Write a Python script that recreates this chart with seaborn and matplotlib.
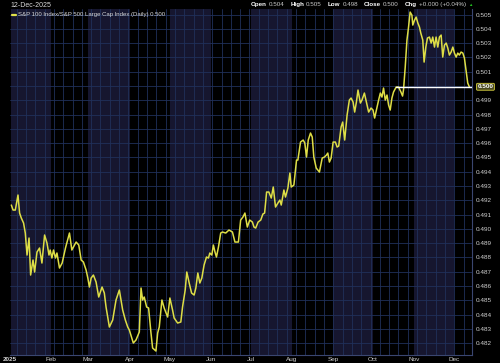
import matplotlib
matplotlib.use("Agg")
import matplotlib.pyplot as plt
import matplotlib.transforms as mtransforms
import seaborn as sns
import pandas as pd

# ---- data (day-of-year 2025, ratio value) ----
day_of_year = [
    2.0, 3.3, 5.0, 7.0, 8.2, 9.5, 11.2, 12.5, 13.8, 15.3, 16.5, 18.3, 19.5, 21.3, 23.2, 25.0,
    27.0, 28.8, 30.3, 31.2, 32.5, 33.7, 35.2, 36.3, 38.2, 40.2, 42.7, 45.7, 47.5, 50.7, 52.7,
    54.5, 56.2, 58.2, 59.5, 60.7, 62.0, 63.7, 65.7, 67.7, 70.2, 71.9, 73.2, 75.7, 78.2, 80.7,
    83.2, 85.7, 87.7, 89.5,
    90.7, 93.7, 95.7, 98.2, 99.5, 100.7, 101.9, 103.7, 105.2, 106.9, 108.2, 110.7, 112.0,
    113.2, 115.2, 116.9, 119.5, 121.2, 123.2, 124.4, 127.0, 129.4, 130.7, 132.7, 133.9,
    135.7, 137.5, 139.4, 140.7, 142.2, 143.7, 145.2, 146.9, 148.7, 150.2, 151.2, 152.7,
    153.9, 155.1, 156.2, 157.7, 159.4, 160.7, 163.2, 165.6, 168.2, 170.1, 172.7, 174.4,
    176.1, 177.6, 179.4, 181.2, 183.2, 184.4,
    185.7, 187.5, 189.5, 191.1, 192.4, 193.9, 195.6, 197.4, 198.9, 200.6, 202.4, 203.9,
    204.9, 206.9, 208.1, 209.9, 211.4, 212.4, 214.4, 216.4, 217.4, 219.4, 221.4, 222.6,
    223.9, 225.2, 226.9, 228.2, 229.4, 231.2, 233.6, 235.7, 237.4, 238.9, 239.9, 241.1,
    242.4, 243.9, 245.6, 246.9, 248.1, 249.9, 251.1, 252.6, 254.4, 256.1, 257.4, 258.9,
    260.1, 261.4, 262.6, 264.4, 265.6, 267.4, 268.9, 270.6, 272.4,
    273.9, 275.1, 276.9, 278.1, 279.4, 280.6, 281.8, 283.1, 284.4, 285.6, 286.8, 288.1,
    289.3, 291.3, 293.1, 294.9, 296.1, 296.8, 298.1, 299.4, 300.6, 301.8, 303.1, 303.8,
    305.1, 306.3, 307.6, 308.8, 309.8, 311.3, 312.3, 313.6, 314.8, 316.3, 317.6, 318.8,
    320.1, 321.3, 322.6, 323.8, 325.1, 326.3, 327.6, 328.9, 330.1, 331.3, 332.6, 333.9,
    335.1, 336.4, 337.6, 338.8, 340.1, 341.4, 342.6, 343.8, 345.1, 346.3,
]
ratio = [
    0.49167, 0.49132, 0.49132, 0.49237, 0.49111, 0.49076, 0.49041, 0.48971, 0.48817, 0.48936,
    0.48677, 0.48782, 0.48698, 0.48838, 0.48866, 0.48761, 0.48957, 0.48901, 0.48817, 0.48852,
    0.48796, 0.48852, 0.48796, 0.48831, 0.48726, 0.48761, 0.48866, 0.48971, 0.48852, 0.48908,
    0.48887, 0.48782, 0.48768, 0.48712, 0.48656, 0.48593, 0.48656, 0.48677, 0.48628, 0.48523,
    0.48593, 0.48551, 0.48453, 0.48313, 0.48362, 0.48502, 0.48572, 0.48432, 0.48362, 0.48313,
    0.48292, 0.48201, 0.48222, 0.48278, 0.48586, 0.48502, 0.48523, 0.48453, 0.48446, 0.48278,
    0.48166, 0.48145, 0.48271, 0.48313, 0.48502, 0.48446, 0.48383, 0.48516, 0.48432, 0.48376,
    0.48341, 0.48348, 0.48453, 0.48572, 0.48698, 0.48621, 0.48551, 0.48537, 0.48586, 0.48691,
    0.48621, 0.48656, 0.48747, 0.48803, 0.48796, 0.48831, 0.48817, 0.48887, 0.48838, 0.48803,
    0.48873, 0.48971, 0.48978, 0.48971, 0.48992, 0.48978, 0.48908, 0.48908, 0.49062, 0.49083,
    0.49111, 0.49013, 0.49062, 0.49048, 0.49013,
    0.49006, 0.49048, 0.49062, 0.49104, 0.49111, 0.49258, 0.49258, 0.49216, 0.49293, 0.49153,
    0.49181, 0.49202, 0.49167, 0.49272, 0.49223, 0.49286, 0.49391, 0.49293, 0.49307, 0.49482,
    0.49482, 0.49608, 0.49622, 0.49601, 0.49503, 0.49622, 0.49671, 0.49643, 0.49503, 0.49426,
    0.49398, 0.49496, 0.49503, 0.49517, 0.49531, 0.49468, 0.49496, 0.49608, 0.49608, 0.49573,
    0.49580, 0.49713, 0.49748, 0.49622, 0.49797, 0.49902, 0.49916, 0.49888, 0.49818, 0.49888,
    0.49972, 0.49881, 0.49902, 0.49951, 0.49888, 0.49818, 0.49846,
    0.49832, 0.49776, 0.49853, 0.49902, 0.49951, 0.49923, 0.49986, 0.49902, 0.49937, 0.49867,
    0.49832, 0.49916, 0.49958, 0.49993, 0.49993, 0.49958, 0.49930, 0.49972, 0.50133, 0.50322,
    0.50413, 0.50518, 0.50497, 0.50427, 0.50462, 0.50483, 0.50441, 0.50413, 0.50371, 0.50322,
    0.50168, 0.50273, 0.50336, 0.50343, 0.50301, 0.50343, 0.50273, 0.50343, 0.50273, 0.50343,
    0.50357, 0.50203, 0.50287, 0.50301, 0.50266, 0.50217, 0.50238, 0.50273, 0.50231, 0.50203,
    0.50231, 0.50217, 0.50238, 0.50231, 0.50196, 0.50112, 0.50021, 0.49995,
]
y_ticks = [0.482, 0.483, 0.484, 0.485, 0.486, 0.487, 0.488, 0.489, 0.490, 0.491, 0.492,
           0.493, 0.494, 0.495, 0.496, 0.497, 0.498, 0.499, 0.500, 0.501, 0.502, 0.503,
           0.504, 0.505]
month_labels = ["2025", "Feb", "Mar", "Apr", "May", "Jun", "Jul", "Aug", "Sep", "Oct", "Nov", "Dec"]
last_value = 0.49995
ref_start_day = 291.3

title_date = "12-Dec-2025"
legend_text = "S&P 100 Index/S&P 500 Large Cap Index (Daily) 0.500"
quote_parts = [("Open", "0.504"), ("High", "0.505"), ("Low", "0.498"), ("Close", "0.500"),
               ("Chg", "+0.000 (+0.04%)")]

base = pd.Timestamp("2024-12-31")
df = pd.DataFrame({"date": base + pd.to_timedelta(day_of_year, unit="D"), "ratio": ratio})

# ---- style ----
sns.set_style("dark")
plt.rcParams["font.family"] = ["Liberation Sans", "DejaVu Sans"]

fig = plt.figure(figsize=(5.0, 3.63), dpi=100, facecolor="black")
ax = fig.add_axes([0.02, 0.022, 0.924, 0.953])
ax.set_facecolor("black")

x0 = base + pd.Timedelta(days=1.4)
x1 = base + pd.Timedelta(days=348.3)

# alternate month shading
navy = "#16162f"
for m in range(1, 13):
    s = pd.Timestamp(2025, m, 1)
    e = pd.Timestamp(2025, m + 1, 1) if m < 12 else pd.Timestamp(2026, 1, 1)
    if m % 2 == 1:
        ax.axvspan(max(s, x0), min(e, x1), color=navy, lw=0, zorder=0)

grid_c = "#20305a"
for yt in y_ticks:
    ax.axhline(yt, color=grid_c, lw=0.6, zorder=1)
for d in pd.date_range("2025-01-06", "2025-12-14", freq="W-MON"):
    ax.axvline(d, color=grid_c, lw=0.6, zorder=1)

sns.lineplot(data=df, x="date", y="ratio", ax=ax, color="#dede46", lw=1.1, zorder=3,
             legend=False)

# reference line at last value
ax.plot([base + pd.Timedelta(days=ref_start_day), x1], [last_value, last_value],
        color="white", lw=1.0, zorder=4)

ax.set_xlim(x0, x1)
ax.set_ylim(0.48117, 0.50539)

# axes formatting
ax.yaxis.tick_right()
ax.set_yticks(y_ticks)
ax.set_yticklabels([f"{v:.3f}" if abs(v - 0.500) > 1e-9 else "" for v in y_ticks])
month_starts = [pd.Timestamp(2025, m, 1) for m in range(1, 13)]
ax.set_xticks(month_starts)
ax.set_xticklabels(month_labels)
for i, lab in enumerate(ax.get_xticklabels()):
    if i == 0:
        lab.set_fontweight("bold")
ax.tick_params(axis="both", length=0, labelsize=4.6, colors="#d0d0d0")
ax.tick_params(axis="y", pad=3)
ax.tick_params(axis="x", pad=1.5)
ax.set_xlabel("")
ax.set_ylabel("")
ax.grid(False)
for sp in ax.spines.values():
    sp.set_visible(False)
for side in ("right", "bottom"):
    ax.spines[side].set_visible(True)
    ax.spines[side].set_color("#3a4670")
    ax.spines[side].set_linewidth(0.8)

# last-value label box
trans = mtransforms.blended_transform_factory(ax.transAxes, ax.transData)
ax.text(1.012, last_value, "0.500", transform=trans, fontsize=4.6, color="white",
        fontweight="bold", va="center", ha="left", zorder=6, clip_on=False,
        bbox=dict(boxstyle="round,pad=0.15", fc="#4a4a22", ec="#d8d040", lw=0.6))

# header texts
fig.text(0.02, 0.994, title_date, fontsize=5, color="#d8d8d8", ha="left", va="top")
ax.plot([0.004, 0.014], [0.983, 0.983], transform=ax.transAxes, color="#e2e24a", lw=1.6,
        zorder=6, clip_on=False)
ax.text(0.018, 0.983, legend_text, transform=ax.transAxes, fontsize=4.3, color="#d8d8d8",
        ha="left", va="center", zorder=6)

# quote line at top right: lay out, then shift so it ends at ~x=466px
ypos = 0.995
fs = 4.5
renderer = fig.canvas.get_renderer()
objs = []
xpos = 0.0
for lbl, val in quote_parts:
    t = fig.text(xpos, ypos, lbl, fontsize=fs, color="white", fontweight="bold",
                 ha="left", va="top")
    objs.append((t, xpos))
    xpos += t.get_window_extent(renderer=renderer).width / fig.bbox.width + 0.004
    t2 = fig.text(xpos, ypos, val, fontsize=fs, color="#c8c8c8", ha="left", va="top")
    objs.append((t2, xpos))
    xpos += t2.get_window_extent(renderer=renderer).width / fig.bbox.width + 0.012
end = xpos - 0.012
shift = 0.932 - end
for t, xp in objs:
    t.set_x(xp + shift)
fig.text(0.936, ypos - 0.003, "\u25B2", fontsize=3.2, color="#22c022", ha="left",
         va="top")

fig.savefig("out.png", dpi=100, facecolor="black")
